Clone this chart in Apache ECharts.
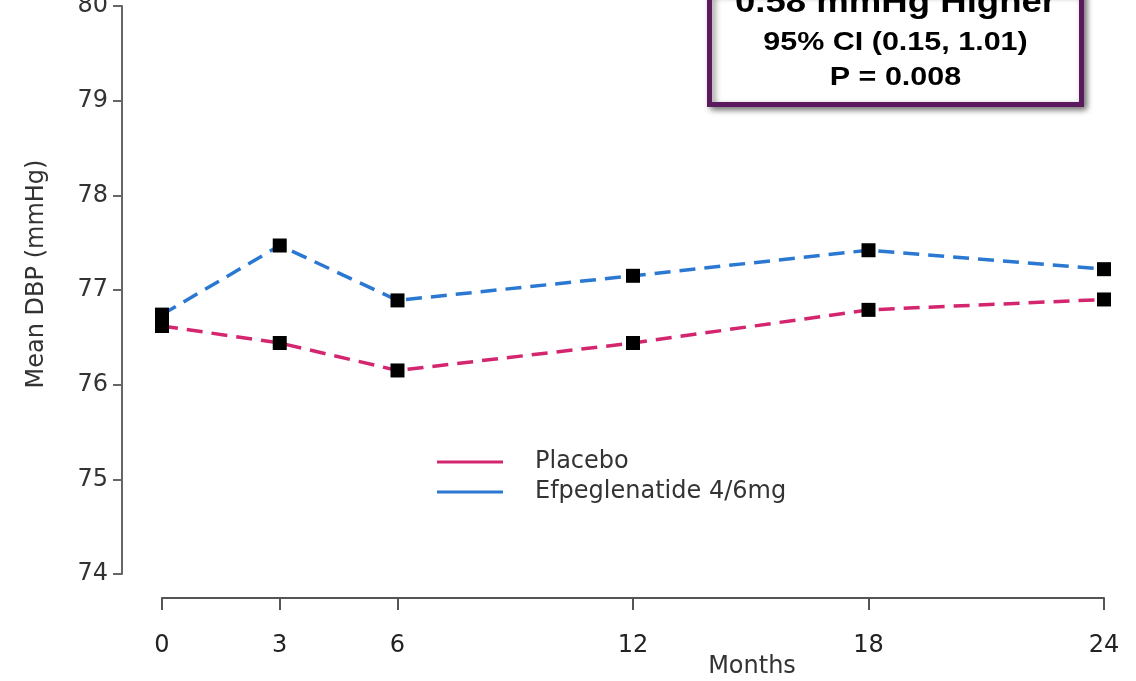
<!DOCTYPE html>
<html><head><meta charset="utf-8">
<script src="https://cdn.jsdelivr.net/npm/echarts@6/dist/echarts.min.js"></script>
<style>html,body{margin:0;padding:0;background:#fff}#c{width:1136px;height:681px}</style>
</head><body><div id="c"></div>
<script>
const months = [0, 3, 6, 12, 18, 24];
const placebo = [76.62, 76.44, 76.15, 76.44, 76.79, 76.90];
const efpeg = [76.74, 77.47, 76.89, 77.15, 77.42, 77.22];
const yTicks = [74, 75, 76, 77, 78, 79, 80];
const boxLines = ['0.58 mmHg Higher', '95% CI (0.15, 1.01)', 'P = 0.008'];
const seriesNames = ['Placebo', 'Efpeglenatide 4/6mg'];
const colors = ['#d4256f', '#2a78d2'];

const chart = echarts.init(document.getElementById('c'), null, {renderer: 'canvas'});
const font = 'DejaVu Sans, sans-serif';
const bfont = 'Liberation Sans, Arial, sans-serif';
const mk = (name, vals, color) => ({
  name, type: 'line', data: months.map((m, i) => [m, vals[i]]),
  symbol: 'rect', symbolSize: 14, itemStyle: {color: '#000'},
  lineStyle: {color, width: 3.5, type: [16, 9]}, z: 3
});
chart.setOption({
  animation: false,
  grid: {left: 162, right: 32, top: 6, bottom: 107, outerBoundsMode: 'none', containLabel: false},
  xAxis: {
    type: 'value', min: 0, max: 24, offset: 24,
    name: 'Months', nameLocation: 'middle', nameGap: 57, nameMoveOverlap: false,
    nameTextStyle: {color: '#333', fontSize: 24, fontFamily: font, padding: [0, 0, 0, 238]},
    axisLine: {show: true, onZero: false, lineStyle: {color: '#555', width: 2}},
    axisTick: {show: true, inside: false, length: 12, customValues: months, lineStyle: {color: '#555', width: 2}},
    axisLabel: {customValues: months, color: '#222', fontSize: 24, fontFamily: font, margin: 36},
    splitLine: {show: false}
  },
  yAxis: {
    type: 'value', min: 74, max: 80, interval: 1, offset: 40,
    name: 'Mean DBP (mmHg)', nameLocation: 'middle', nameGap: 73, nameRotate: 90, nameMoveOverlap: false,
    nameTextStyle: {color: '#333', fontSize: 24, fontFamily: font, padding: [0, 0, 0, 32]},
    axisLine: {show: true, onZero: false, lineStyle: {color: '#666', width: 2}},
    axisTick: {show: true, length: 9, lineStyle: {color: '#666', width: 2}},
    axisLabel: {color: '#333', fontSize: 24, fontFamily: font, margin: 14,
      formatter: v => yTicks.includes(v) ? String(v) : ''},
    splitLine: {show: false}
  },
  legend: {
    orient: 'vertical', left: 432, top: 442, itemGap: 0,
    itemWidth: 66, itemHeight: 3, icon: 'rect',
    textStyle: {color: '#333', fontSize: 24, fontFamily: font, lineHeight: 30, padding: [0, 0, 0, 27]},
    data: seriesNames.map((n, i) => ({name: n, itemStyle: {color: colors[i]}}))
  },
  series: [mk(seriesNames[0], placebo, colors[0]), mk(seriesNames[1], efpeg, colors[1])],
  graphic: [{
    type: 'group', left: 707, top: -12, children: [
      {type: 'rect', shape: {x: 0, y: 0, width: 372, height: 113},
       style: {fill: '#fff', stroke: '#5b1a5d', lineWidth: 5, shadowBlur: 6, shadowColor: 'rgba(0,0,0,0.45)', shadowOffsetX: 3, shadowOffsetY: 3}},
      {type: 'text', x: 186, y: 12, scaleX: 1.18, style: {text: boxLines[0], font: 'bold 31px ' + bfont, fill: '#000', align: 'center', verticalAlign: 'middle'}},
      {type: 'text', x: 186, y: 52, scaleX: 1.22, style: {text: boxLines[1], font: 'bold 25px ' + bfont, fill: '#000', align: 'center', verticalAlign: 'middle'}},
      {type: 'text', x: 186, y: 87, scaleX: 1.22, style: {text: boxLines[2], font: 'bold 25px ' + bfont, fill: '#000', align: 'center', verticalAlign: 'middle'}}
    ]
  }]
});
</script></body></html>
